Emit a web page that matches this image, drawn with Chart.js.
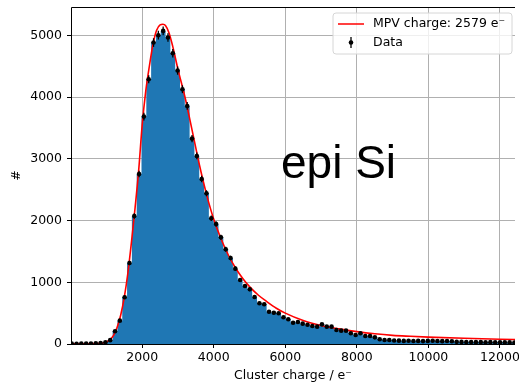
<!DOCTYPE html>
<html><head><meta charset="utf-8">
<script src="https://cdn.jsdelivr.net/npm/chart.js@4/dist/chart.umd.min.js"></script>
<style>html,body{margin:0;padding:0;background:#fff;} canvas{display:block;}</style>
</head><body>
<canvas id="c" width="519" height="384"></canvas>
<script>
// ---- data ----
const binCenters = [30,165,299,434,568,703,837,972,1106,1241,1375,1510,1644,1779,1913,2048,2182,2317,2451,2586,
  2720,2855,2989,3124,3258,3393,3527,3662,3796,3931,4065,4200,4334,4469,4603,4738,4872,5007,5141,5276,
  5410,5545,5679,5814,5948,6083,6217,6352,6486,6621,6755,6890,7024,7159,7293,7428,7562,7697,7831,7966,
  8100,8235,8369,8504,8638,8773,8907,9042,9176,9311,9445,9580,9714,9849,9983,10118,10252,10387,10521,10656,
  10790,10925,11059,11194,11328,11463,11597,11732,11866,12001,12135,12270,12404,12539];
const counts = [6,5,7,8,9,11,15,28,62,206,378,757,1313,2074,2755,3684,4290,4884,5003,5073,
  4965,4711,4430,4128,3857,3328,3047,2674,2442,2037,1945,1729,1535,1394,1221,1037,940,886,762,660,
  645,523,507,497,433,400,345,357,330,313,292,281,318,281,281,227,216,216,173,146,
  173,130,130,108,76,65,65,56,54,50,52,48,50,47,50,52,48,46,48,45,
  36,34,32,33,30,31,29,30,28,27,28,26,25,25];
const errors = [2,2,3,3,3,3,4,5,8,14,19,28,36,46,52,61,65,70,71,71,
  70,69,67,64,62,58,55,52,49,45,44,42,39,37,35,32,31,30,28,26,
  25,23,23,22,21,20,19,19,18,17,17,16,18,17,16,15,15,14,13,14,
  12,12,11,10,9,8,8,7,7,7,7,7,7,7,7,7,7,7,7,7,
  6,6,6,6,5,6,5,5,5,5,5,5,5,5];
const fitX = [0,400,700,900,1000,1100,1200,1300,1400,1500,1600,1700,1800,1900,2000,2100,2200,2300,2400,2500,
  2579,2650,2750,2850,3000,3200,3400,3600,3800,4000,4200,4400,4600,4800,5000,5250,5500,5750,6000,6500,
  7000,7500,8000,8500,9000,9500,10000,11000,12000,12600];
const fitY = [2,3,6,15,35,70,140,270,470,760,1150,1650,2200,2800,3550,4100,4500,4850,5080,5170,
  5180,5160,5040,4830,4450,3990,3450,2900,2420,2020,1710,1450,1240,1070,930,790,680,580,500,380,
  300,245,200,165,140,125,112,92,76,70];
const xTicks = [2000,4000,6000,8000,10000,12000];
const yTicks = [0,1000,2000,3000,4000,5000];
const fitLabel = 'MPV charge: 2579 e\u207B';
const dataLabel = 'Data';
const xTitle = 'Cluster charge / e\u207B';
const yTitle = '#';
const annotationText = 'epi Si';

const BLUE = '#1f77b4';
const FONT = "'DejaVu Sans', sans-serif";
Chart.defaults.font.family = FONT;
Chart.defaults.font.size = 12.5;
Chart.defaults.color = '#000';

const framePlugin = {
  id: 'frame',
  afterDatasetsDraw(chart) {
    const {ctx, chartArea: a, scales} = chart;
    const xs = scales.x, ys = scales.y;
    // error bars
    ctx.save();
    ctx.beginPath();
    ctx.rect(a.left, a.top, a.right - a.left, a.bottom - a.top);
    ctx.clip();
    ctx.strokeStyle = '#000';
    ctx.lineWidth = 1.3;
    for (let i = 0; i < binCenters.length; i++) {
      const px = xs.getPixelForValue(binCenters[i]);
      const y1 = ys.getPixelForValue(counts[i] - errors[i]);
      const y2 = ys.getPixelForValue(counts[i] + errors[i]);
      ctx.beginPath(); ctx.moveTo(px, y1); ctx.lineTo(px, y2); ctx.stroke();
    }
    ctx.restore();
    // spines
    ctx.save();
    ctx.strokeStyle = '#000';
    ctx.lineWidth = 1;
    ctx.beginPath();
    ctx.moveTo(a.left + 0.5, a.bottom + 0.5);
    ctx.lineTo(a.left + 0.5, a.top + 0.5);
    ctx.lineTo(a.right, a.top + 0.5);
    ctx.moveTo(a.left, a.bottom + 0.5);
    ctx.lineTo(a.right, a.bottom + 0.5);
    ctx.stroke();
    ctx.restore();
  },
  afterDraw(chart) {
    const {ctx, chartArea: a} = chart;
    ctx.save();
    // annotation text
    ctx.fillStyle = '#000';
    ctx.font = "46px 'Liberation Sans', Arial, sans-serif";
    ctx.textBaseline = 'alphabetic';
    ctx.textAlign = 'left';
    ctx.fillText(annotationText, 281, 178);
    // legend box
    const bx = a.right - 182, by = a.top + 6, bw = 179, bh = 41, r = 3;
    ctx.beginPath();
    ctx.moveTo(bx + r, by);
    ctx.arcTo(bx + bw, by, bx + bw, by + bh, r);
    ctx.arcTo(bx + bw, by + bh, bx, by + bh, r);
    ctx.arcTo(bx, by + bh, bx, by, r);
    ctx.arcTo(bx, by, bx + bw, by, r);
    ctx.closePath();
    ctx.fillStyle = 'rgba(255,255,255,0.8)';
    ctx.fill();
    ctx.strokeStyle = '#d6d6d6';
    ctx.lineWidth = 1;
    ctx.stroke();
    // red line sample
    ctx.strokeStyle = '#ff0000';
    ctx.lineWidth = 1.5;
    ctx.beginPath(); ctx.moveTo(bx + 5, by + 11); ctx.lineTo(bx + 31, by + 11); ctx.stroke();
    // data sample
    ctx.strokeStyle = '#000';
    ctx.lineWidth = 1.3;
    ctx.beginPath(); ctx.moveTo(bx + 18, by + 24); ctx.lineTo(bx + 18, by + 35); ctx.stroke();
    ctx.fillStyle = '#000';
    ctx.beginPath(); ctx.arc(bx + 18, by + 29.5, 2.3, 0, Math.PI * 2); ctx.fill();
    // legend text
    ctx.font = "12.5px " + FONT;
    ctx.textBaseline = 'middle';
    ctx.fillText(fitLabel, bx + 40, by + 11);
    ctx.fillText(dataLabel, bx + 40, by + 29.5);
    ctx.restore();
  }
};

new Chart(document.getElementById('c'), {
  type: 'scatter',
  data: {
    datasets: [
      {
        type: 'scatter', label: dataLabel, order: 1,
        data: binCenters.map((x, i) => ({x, y: counts[i]})),
        backgroundColor: '#000', borderColor: '#000', borderWidth: 0, pointRadius: 2.3
      },
      {
        type: 'line', label: fitLabel, order: 2,
        data: fitX.map((x, i) => ({x, y: fitY[i]})),
        borderColor: '#ff0000', borderWidth: 1.6, pointRadius: 0, fill: false,
        cubicInterpolationMode: 'monotone'
      },
      {
        type: 'line', label: 'hist', order: 3,
        data: binCenters.map((x, i) => ({x, y: counts[i]})),
        stepped: 'middle', fill: 'origin', backgroundColor: BLUE,
        borderColor: BLUE, borderWidth: 0, pointRadius: 0
      }
    ]
  },
  options: {
    responsive: false, animation: false, devicePixelRatio: 1,
    layout: { padding: { left: 0, right: 0, top: 7, bottom: 0 } },
    plugins: { legend: { display: false }, tooltip: { enabled: false } },
    scales: {
      x: {
        type: 'linear', min: 10, max: 12420,
        afterBuildTicks: (s) => { s.ticks = xTicks.map(v => ({value: v})); },
        afterFit: (s) => { s.height = 40; s.paddingLeft = 0; s.paddingRight = 0; },
        ticks: { callback: (v) => String(v), padding: 2, maxRotation: 0, autoSkip: false, color: '#000' },
        grid: { color: '#b0b0b0', lineWidth: 1, tickLength: 4, tickColor: '#000', drawTicks: true },
        border: { display: false },
        title: { display: true, text: xTitle, color: '#000', padding: { top: 0, bottom: 1 }, font: { size: 12.5 } }
      },
      y: {
        type: 'linear', min: 0, max: 5460,
        afterBuildTicks: (s) => { s.ticks = yTicks.map(v => ({value: v})); },
        afterFit: (s) => { s.width = 71; s.paddingTop = 0; s.paddingBottom = 0; },
        ticks: { callback: (v) => String(v), padding: 5, color: '#000' },
        grid: { color: '#b0b0b0', lineWidth: 1, tickLength: 4, tickColor: '#000', drawTicks: true },
        border: { display: false },
        title: { display: true, text: yTitle, color: '#000', padding: { top: 9, bottom: 0 }, font: { size: 12.5 } }
      }
    }
  },
  plugins: [framePlugin]
});
</script>
</body></html>
